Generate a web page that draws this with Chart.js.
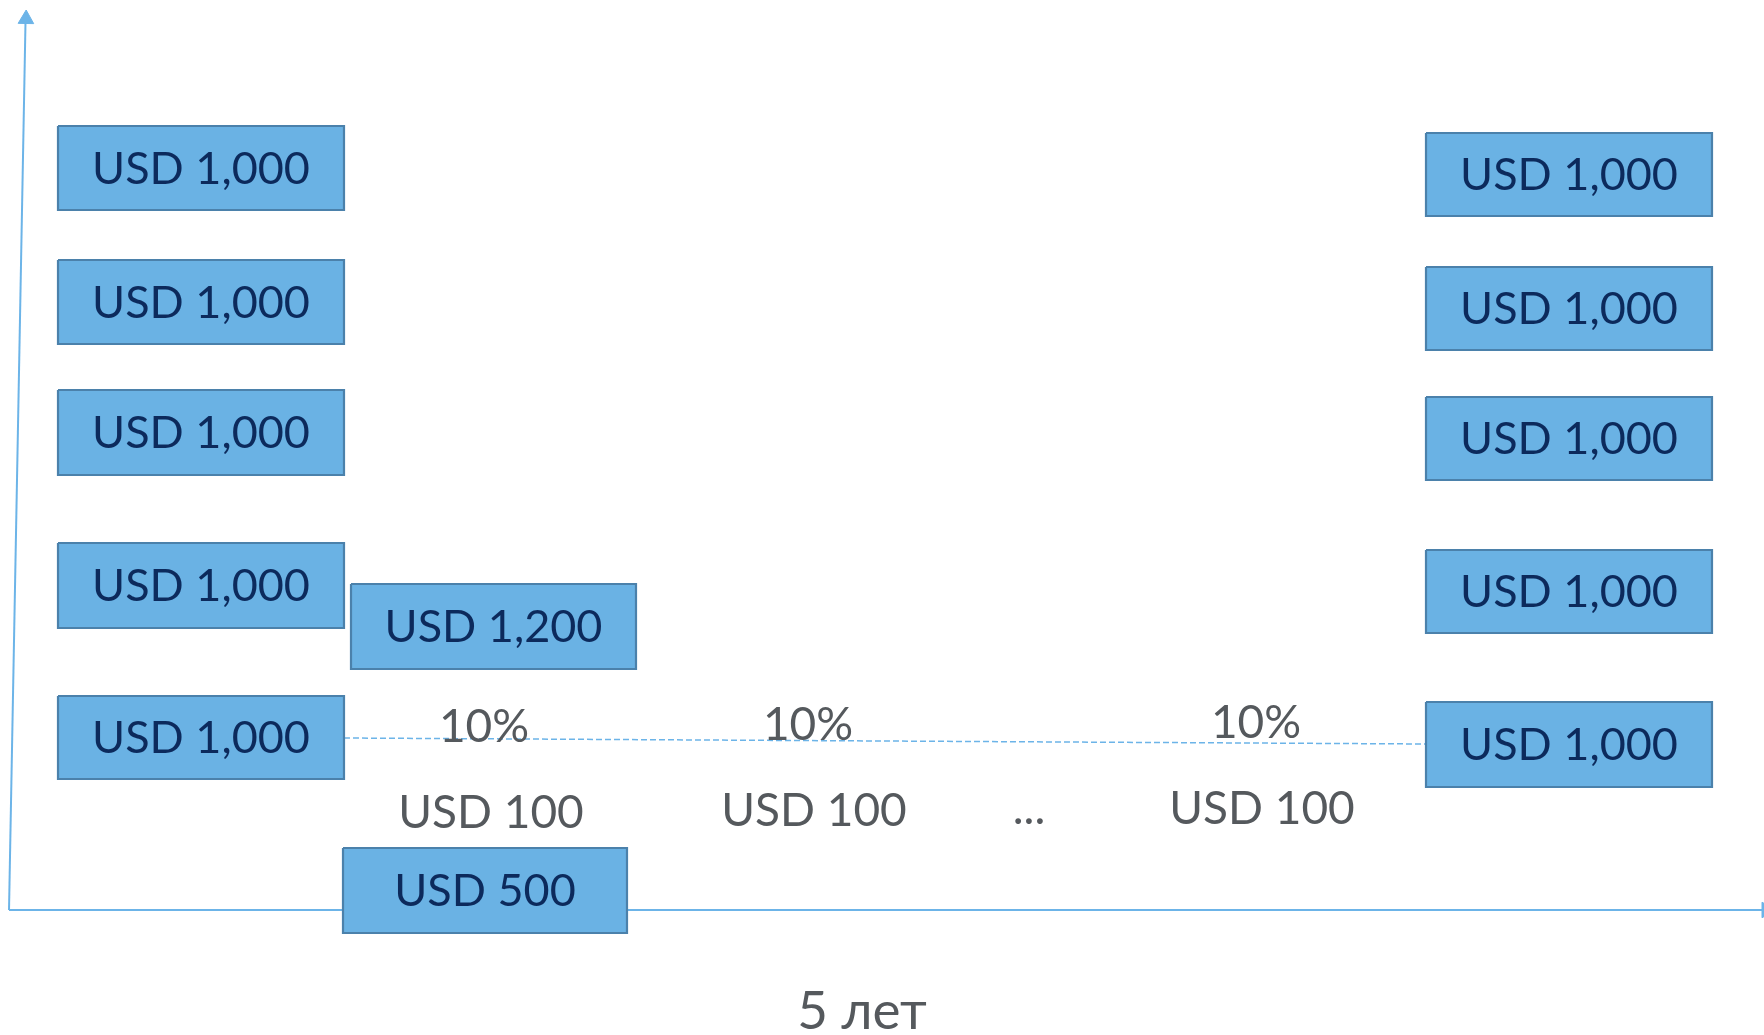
<!DOCTYPE html>
<html>
<head>
<meta charset="utf-8">
<script src="https://cdn.jsdelivr.net/npm/chart.js@4.4.0/dist/chart.umd.min.js"></script>
<style>
    html, body { margin: 0; padding: 0; background: #ffffff; }
    #wrap { width: 1764px; height: 1035px; }
</style>
</head>
<body>
<div id="wrap"><canvas id="cashflowChart"></canvas></div>
<script>
// Прямоугольники (единица шкалы = 10 px, ось y сверху вниз)
const boxLabels = [
    'USD 1,000', 'USD 1,000', 'USD 1,000', 'USD 1,000', 'USD 1,000',
    'USD 1,200', 'USD 500',
    'USD 1,000', 'USD 1,000', 'USD 1,000', 'USD 1,000', 'USD 1,000'
];
const boxLeft   = [5.8, 5.8, 5.8, 5.8, 5.8, 35.1, 34.3, 142.6, 142.6, 142.6, 142.6, 142.6];
const boxRight  = [34.4, 34.4, 34.4, 34.4, 34.4, 63.6, 62.7, 171.2, 171.2, 171.2, 171.2, 171.2];
const boxTop    = [12.6, 26.0, 39.0, 54.3, 69.6, 58.4, 84.8, 13.3, 26.7, 39.7, 55.0, 70.2];
const boxBottom = [21.0, 34.4, 47.5, 62.8, 77.9, 66.9, 93.3, 21.6, 35.0, 48.0, 63.3, 78.7];

// Подписи купонов
const noteLabels = ['10%', '10%', '10%', 'USD 100', 'USD 100', '...', 'USD 100'];
const noteX      = [48.4, 80.8, 125.6, 49.1, 81.4, 102.9, 126.2];
const noteY      = [74.2, 74.0, 73.8, 82.8, 82.6, 82.4, 82.4];

// Подпись оси
const axisTitle = '5 лет';
const axisTitleX = 86.2;
const axisTitleY = 102.9;

// Оси и пунктир
const yAxisLine = [{x: 0.9, y: 91.0}, {x: 2.55, y: 2.2}];
const xAxisLine = [{x: 0.9, y: 91.0}, {x: 176.4, y: 91.0}];
const dashLine  = [{x: 34.4, y: 73.8}, {x: 142.6, y: 74.4}];
const arrowUp    = [{x: 2.6, y: 1.9}];
const arrowRight = [{x: 176.65, y: 91.0}];

const boxDatasets = boxLabels.map((label, i) => ({
    label: label,
    data: [
        {x: boxLeft[i], y: boxTop[i]},
        {x: boxRight[i], y: boxTop[i]},
        {x: boxRight[i], y: boxBottom[i]},
        {x: boxLeft[i], y: boxBottom[i]},
        {x: boxLeft[i], y: boxTop[i]}
    ],
    showLine: true,
    fill: 'shape',
    backgroundColor: '#6ab2e4',
    borderColor: '#4b81ab',
    borderWidth: 2.2,
    pointRadius: 0
}));

const lineStyle = {
    showLine: true,
    borderColor: '#6cb4e8',
    borderWidth: 2,
    pointRadius: 0,
    fill: false
};

const labelPlugin = {
    id: 'boxText',
    afterDatasetsDraw(chart) {
        const ctx = chart.ctx;
        const xs = chart.scales.x;
        const ys = chart.scales.y;
        ctx.save();
        ctx.textAlign = 'center';
        ctx.textBaseline = 'alphabetic';

        ctx.fillStyle = '#0c2a5c';
        ctx.font = '45px Lato';
        boxLabels.forEach((label, i) => {
            const cx = (xs.getPixelForValue(boxLeft[i]) + xs.getPixelForValue(boxRight[i])) / 2;
            const cy = (ys.getPixelForValue(boxTop[i]) + ys.getPixelForValue(boxBottom[i])) / 2;
            ctx.fillText(label, cx, cy + 45 * 0.35);
        });

        ctx.fillStyle = '#55595d';
        ctx.font = '46px Lato';
        noteLabels.forEach((label, i) => {
            ctx.fillText(label, xs.getPixelForValue(noteX[i]), ys.getPixelForValue(noteY[i]));
        });

        ctx.font = '53px Lato';
        ctx.fillText(axisTitle, xs.getPixelForValue(axisTitleX), ys.getPixelForValue(axisTitleY));
        ctx.restore();
    }
};

const cashflowCtx = document.getElementById('cashflowChart').getContext('2d');
const cashflowChart = new Chart(cashflowCtx, {
    type: 'scatter',
    data: {
        datasets: [
            ...boxDatasets,
            Object.assign({label: 'y', data: yAxisLine}, lineStyle),
            Object.assign({label: 'x', data: xAxisLine}, lineStyle),
            Object.assign({label: 'dash', data: dashLine}, lineStyle, {borderWidth: 1.5, borderDash: [6, 3]}),
            {
                label: 'arrowUp',
                data: arrowUp,
                pointStyle: 'triangle',
                pointRadius: 9,
                rotation: 1,
                backgroundColor: '#6cb4e8',
                borderColor: '#6cb4e8',
                borderWidth: 1,
                clip: false
            },
            {
                label: 'arrowRight',
                data: arrowRight,
                pointStyle: 'triangle',
                pointRadius: 9,
                rotation: 90,
                backgroundColor: '#6cb4e8',
                borderColor: '#6cb4e8',
                borderWidth: 1,
                clip: false
            }
        ]
    },
    options: {
        responsive: true,
        maintainAspectRatio: false,
        animation: false,
        layout: { padding: 0, autoPadding: false },
        plugins: {
            legend: { display: false },
            tooltip: { enabled: false }
        },
        scales: {
            x: { type: 'linear', min: 0, max: 176.4, display: false },
            y: { type: 'linear', min: 0, max: 103.5, reverse: true, display: false }
        }
    },
    plugins: [labelPlugin]
});
</script>
</body>
</html>
